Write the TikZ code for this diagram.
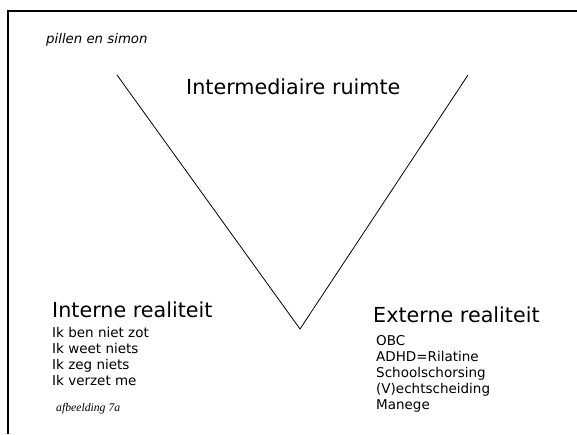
\documentclass[tikz,border=0pt]{standalone}
\usepackage{fontspec}
\setmainfont{DejaVu Sans}
\newfontfamily\capfont{Liberation Serif}
% a block of left-aligned lines whose baseline is that of its first line
\newcommand{\linelist}[1]{\begin{tabular}[t]{@{}l@{}}#1\end{tabular}}
\begin{document}
\begin{tikzpicture}[x=1pt,y=-1pt,
  frame/.style={line width=2pt},
  vline/.style={line width=0.8pt},
  title/.style={anchor=base west,inner sep=0pt,font=\fontsize{20.7}{24}\selectfont},
  items/.style={anchor=base west,inner sep=0pt,font=\fontsize{13.5}{16}\selectfont},
  note/.style={anchor=base west,inner sep=0pt,font=\fontsize{13.3}{16}\selectfont\itshape},
  caption/.style={anchor=base west,inner sep=0pt,font=\capfont\fontsize{11.7}{14}\selectfont\itshape}]
\useasboundingbox (0,0) rectangle (577,434);
% partial frame: top and left edge
\coordinate (ftl) at (8,11);
\coordinate (ftr) at (577,11);
\coordinate (fbl) at (8,434);
\draw[frame] (ftr) -- (ftl) -- (fbl);
% the V
\coordinate (vl) at (117,75);
\coordinate (vb) at (300,329);
\coordinate (vr) at (468,75);
\draw[vline] (vl) -- (vb) -- (vr);
% texts
\node[note] (src) at (46,43.5) {pillen en simon};
\node[title] (mid) at (186,94) {Intermediaire ruimte};
\node[title] (int) at (52,317) {Interne realiteit};
\node[items] (intl) at (52,337.3) {\linelist{Ik ben niet zot\\Ik weet niets\\Ik zeg niets\\Ik verzet me}};
\node[caption] (cap) at (56,411) {afbeelding 7a};
\node[title] (ext) at (373,322) {Externe realiteit};
\node[items] (extl) at (376,345) {\linelist{OBC\\ADHD=Rilatine\\Schoolschorsing\\(V)echtscheiding\\Manege}};
\end{tikzpicture}
\end{document}
